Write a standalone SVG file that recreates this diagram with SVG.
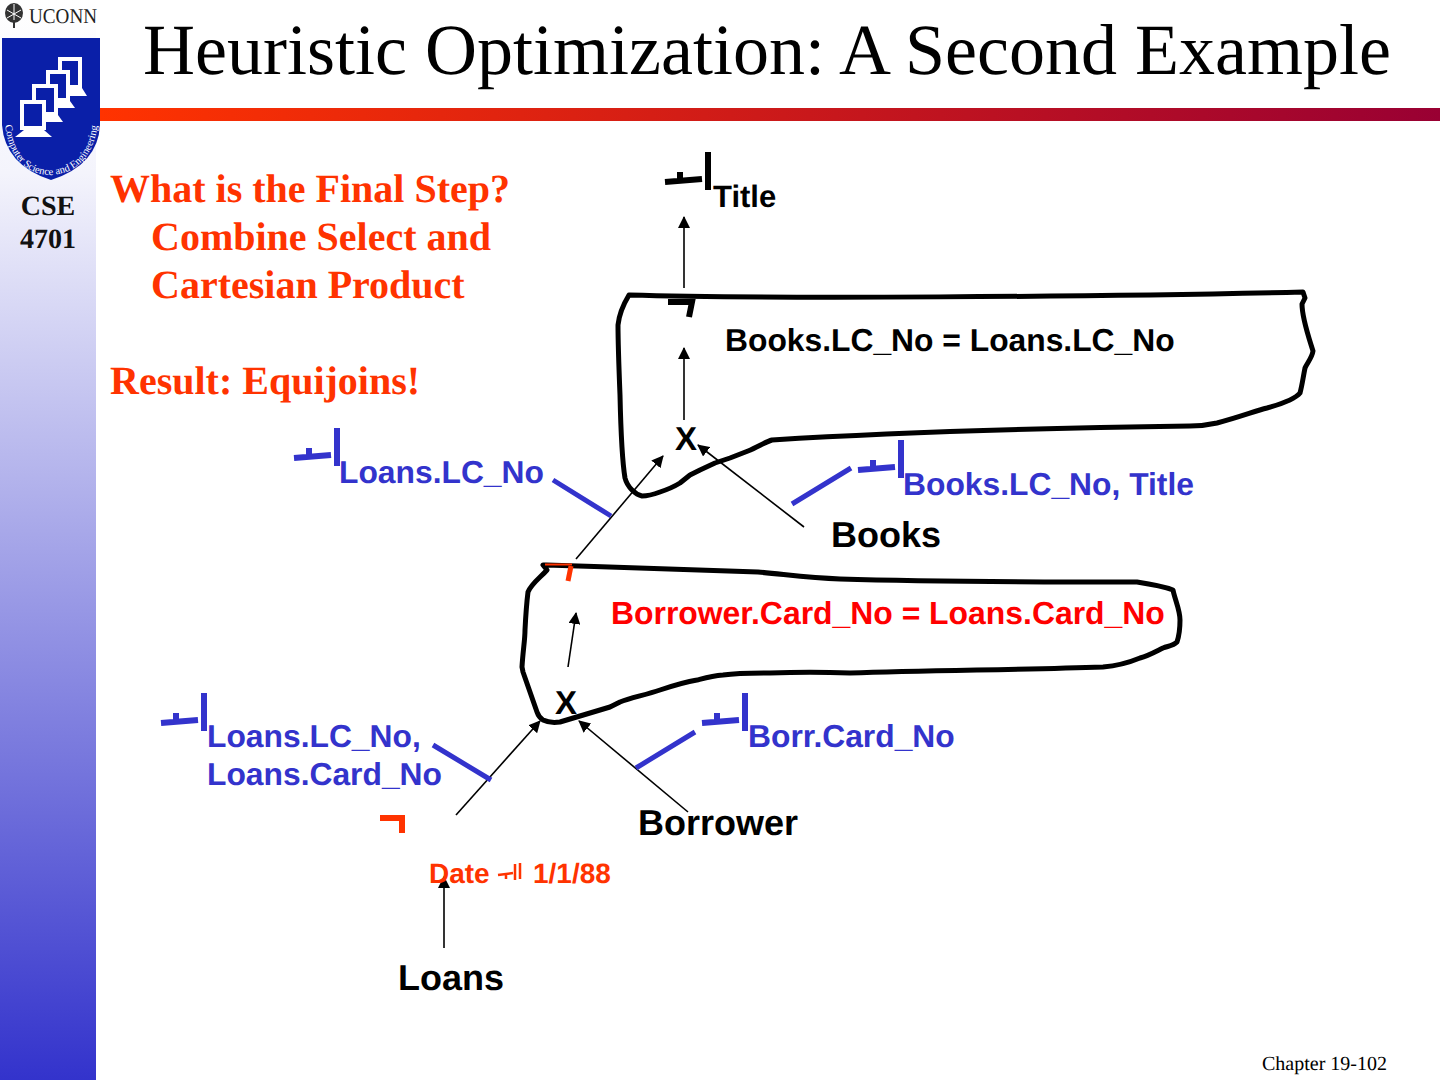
<svg xmlns="http://www.w3.org/2000/svg" width="1440" height="1080" viewBox="0 0 1440 1080">
<style>
text{font-family:"Liberation Sans",Arial,sans-serif;font-weight:bold;text-rendering:geometricPrecision}
.s{font-family:"Liberation Serif","Times New Roman",serif}
.n{font-weight:normal}
.b{font-size:40px;fill:#ff3300}
.k{fill:#000}
.bl{fill:#3333cc}
.conn{fill:none;stroke:#000;stroke-width:1.6}
.loop{fill:none;stroke:#000;stroke-width:5;stroke-linejoin:round;stroke-linecap:round}
.sym{fill:none;stroke-width:6}
.lk{stroke:#3333cc;stroke-width:5;fill:none}
.mon{fill:#0a1fa8;stroke:#fff;stroke-width:4}
</style>
<defs>
<linearGradient id="side" x1="0" y1="0" x2="0" y2="1"><stop offset="0" stop-color="#ffffff"/><stop offset="0.16" stop-color="#f4f4fc"/><stop offset="1" stop-color="#3333cc"/></linearGradient>
<linearGradient id="bar" x1="0" y1="0" x2="1" y2="0"><stop offset="0" stop-color="#ff3300"/><stop offset="1" stop-color="#990033"/></linearGradient>
<marker id="a" markerWidth="12" markerHeight="12" refX="11" refY="6" orient="auto" markerUnits="userSpaceOnUse"><path d="M0 0L12 6L0 12z" fill="#000"/></marker>
<g id="pi"><path d="M0 28L37 25M15 18V26M43 -2V36" class="sym"/></g>
</defs>
<rect width="1440" height="1080" fill="#fff"/>
<rect id="sidebar" x="0" y="0" width="96" height="1080" fill="url(#side)"/>
<rect id="topbar" x="100" y="108" width="1340" height="13" fill="url(#bar)"/>
<g id="logo">
<ellipse cx="14" cy="13" rx="9" ry="10" fill="#333"/><path d="M14 4V28M7 10L21 18M21 10L7 18" stroke="#fff" stroke-width="1"/><path d="M14 20V28" stroke="#333" stroke-width="2"/>
<text x="29" y="23" class="s n" font-size="21" textLength="68" lengthAdjust="spacingAndGlyphs" fill="#222">UCONN</text>
<path d="M2 38H100V125Q98 165 51 180Q5 165 2 125z" fill="#0a1fa8"/>
<g>
<rect class="mon" x="60" y="59" width="20" height="28"/><path d="M62 88H82L87 96H62z" fill="#fff"/>
<rect class="mon" x="48" y="72" width="20" height="28"/><path d="M50 101H70L75 108H50z" fill="#fff"/>
<rect class="mon" x="34" y="86" width="22" height="28"/><path d="M38 115H58L63 122H38z" fill="#fff"/>
<rect class="mon" x="22" y="102" width="22" height="26"/><path d="M24 130H44L52 137H15z" fill="#fff"/>
</g>
<path id="arc" d="M5 125Q12 174 51 175Q92 172 98 122" fill="none"/>
<text font-size="10.500" fill="#fff" class="s n"><textPath href="#arc">Computer Science and Engineering</textPath></text>
<text x="48" y="215" text-anchor="middle" class="s" font-size="28" fill="#111">CSE</text>
<text x="48" y="248" text-anchor="middle" class="s" font-size="28" fill="#111">4701</text>
</g>
<text id="title" x="767" y="74" text-anchor="middle" class="s n" font-size="72">Heuristic Optimization: A Second Example</text>
<g id="text-block">
<text x="110" y="202" class="s b">What is the Final Step?</text>
<text x="151" y="250" class="s b">Combine Select and</text>
<text x="151" y="298" class="s b">Cartesian Product</text>
<text x="110" y="394" class="s b">Result: Equijoins!</text>
</g>
<g id="connectors">
<path class="conn" d="M684 288V217" marker-end="url(#a)"/>
<path class="conn" d="M684 420V348" marker-end="url(#a)"/>
<path class="conn" d="M576 559L663 456" marker-end="url(#a)"/>
<path class="conn" d="M804 527L698 445" marker-end="url(#a)"/>
<path class="conn" d="M568 667L576 613" marker-end="url(#a)"/>
<path class="conn" d="M456 815L540 721" marker-end="url(#a)"/>
<path class="conn" d="M688 812L579 721" marker-end="url(#a)"/>
<path class="conn" d="M444 948V877" marker-end="url(#a)"/>
<path class="lk" d="M553 480L611 516M792 504L851 468M433 745L491 780M636 768L695 732"/>
<path class="loop" d="M629 295C760 299 1100 297 1303 292L1305 298L1302 304C1302 318 1308 335 1313 351C1312 358 1307 363 1305 368C1303 378 1302 386 1300 393C1296 398 1285 403 1267 408C1255 411 1240 417 1217 423C1208 425 1200 426 1190 426C1050 428 900 432 772 440C765 442 758 447 748 451L730 458L715 463L700 470L690 475L680 483C672 488 666 490 660 492C652 495 645 496 642 496C637 495 634 492 632 490C628 486 626 482 625 478C622 460 621 440 620 395C619 370 618 345 618 325C619 315 623 305 629 295Z"/>
<path class="loop" d="M546 565C620 567 700 570 758 572C790 575 810 578 840 579C940 582 1040 582 1137 582C1150 584 1165 587 1173 590C1175 600 1180 610 1180 620C1180 630 1179 636 1177 642C1173 646 1168 646 1163 648C1155 652 1148 656 1140 658C1128 663 1115 666 1103 667C1020 670 930 670 850 673C825 672 795 672 770 673C755 673 738 673 723 675C712 676 705 678 697 680C685 682 672 686 660 690C645 695 630 698 620 702L610 707L580 716L560 722C553 723 547 722 543 720C540 718 538 715 537 712L523 672L522 667C523 650 525 640 525 630C526 610 527 600 528 592C532 583 540 578 547 570L543 565Z"/>
</g>
<g id="n-pi-title">
<use href="#pi" x="665" y="154" stroke="#000"/>
<text x="713" y="207" font-size="31" class="k">Title</text>
</g>
<g id="n-join1">
<path d="M668 302H692L689 317" class="sym" stroke="#000"/>
<text x="725" y="351" font-size="31.800" class="k">Books.LC_No = Loans.LC_No</text>
<text x="675" y="450" font-size="33" class="k">X</text>
</g>
<g id="n-pi-lc">
<use href="#pi" x="294" y="430" stroke="#3333cc"/>
<text x="339" y="483" font-size="31.800" class="bl">Loans.LC_No</text>
</g>
<g id="n-pi-books">
<use href="#pi" x="858" y="442" stroke="#3333cc"/>
<text x="903" y="495" font-size="31.800" class="bl">Books.LC_No, Title</text>
</g>
<g id="n-books"><text x="831" y="547" font-size="36" class="k">Books</text></g>
<g id="n-join2">
<path d="M545 564.500H572" stroke="#ff3300" stroke-width="2" fill="none"/>
<path d="M571 566L568 581" stroke="#ff3300" stroke-width="5" fill="none"/>
<text x="611" y="624" font-size="31.900" fill="#ff0000">Borrower.Card_No = Loans.Card_No</text>
<text x="555" y="714" font-size="33" class="k">X</text>
</g>
<g id="n-pi-loans">
<use href="#pi" x="161" y="695" stroke="#3333cc"/>
<text x="207" y="747" font-size="31.800" class="bl">Loans.LC_No,</text>
<text x="207" y="785" font-size="31.800" class="bl">Loans.Card_No</text>
</g>
<g id="n-pi-borr">
<use href="#pi" x="702" y="695" stroke="#3333cc"/>
<text x="748" y="747" font-size="31.800" class="bl">Borr.Card_No</text>
</g>
<g id="n-borrower"><text x="638" y="835" font-size="36" class="k">Borrower</text></g>
<g id="n-sel">
<path d="M380 818H405M402 816V833" class="sym" stroke="#ff3300"/>
<text x="429" y="883" font-size="28" fill="#ff3300">Date</text>
<path d="M498 875L513 873M506 873V879M515 864V880M520 863V879" fill="none" stroke="#ff3300" stroke-width="2.500"/>
<text x="533" y="883" font-size="28" fill="#ff3300">1/1/88</text>
</g>
<g id="n-loans"><text x="398" y="990" font-size="36" class="k">Loans</text></g>
<text id="footer" x="1262" y="1070" class="s n" font-size="20">Chapter 19-102</text>
</svg>
